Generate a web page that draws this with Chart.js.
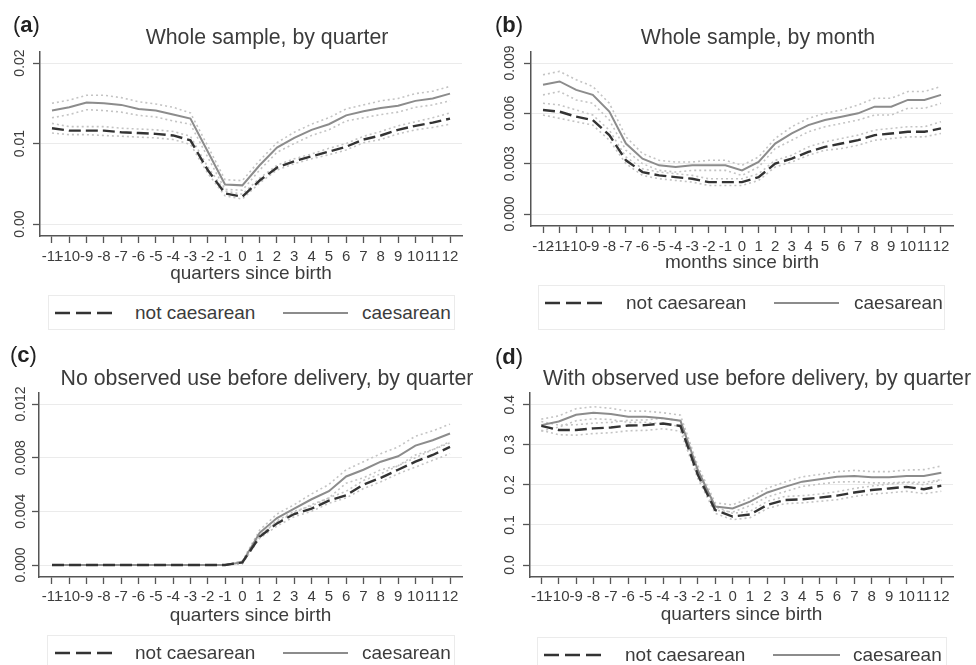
<!DOCTYPE html>
<html><head><meta charset="utf-8">
<script src="https://cdn.jsdelivr.net/npm/chart.js@4.4.1/dist/chart.umd.min.js"></script>
<style>
body{margin:0;background:#fff;width:976px;height:665px;overflow:hidden;position:relative;font-family:"Liberation Sans",Arial,sans-serif;color:#3c3c3c}
canvas{position:absolute}
.t{position:absolute;white-space:nowrap;transform:translate(-50%,-50%);font-size:21.3px;color:#3c3c3c}
.lab{position:absolute;white-space:nowrap;font-size:22px;color:#222;transform:translateY(-50%)}
.lg{position:absolute;border:1px solid #ebebeb;box-sizing:border-box}
.lt{position:absolute;font-size:19px;color:#3c3c3c;transform:translateY(-50%);white-space:nowrap}
svg{position:absolute;overflow:visible}
</style></head><body>
<canvas id="ca" width="488" height="290" style="left:0;top:0"></canvas>
<canvas id="cb" width="488" height="290" style="left:488px;top:0"></canvas>
<canvas id="cc" width="488" height="335" style="left:0;top:330px"></canvas>
<canvas id="cd" width="488" height="335" style="left:488px;top:330px"></canvas>

<div class="lab" style="left:13px;top:25px">(<b>a</b>)</div>
<div class="lab" style="left:495px;top:25px">(<b>b</b>)</div>
<div class="lab" style="left:10px;top:355px">(<b>c</b>)</div>
<div class="lab" style="left:495px;top:357px">(<b>d</b>)</div>

<div class="t" style="left:267px;top:37px">Whole sample, by quarter</div>
<div class="t" style="left:758px;top:37px">Whole sample, by month</div>
<div class="t" style="left:267px;top:378px">No observed use before delivery, by quarter</div>
<div class="t" style="left:757px;top:378px">With observed use before delivery, by quarter</div>

<div id="legends"></div>

<script>
// ---------- data ----------
const quarters = [-11,-10,-9,-8,-7,-6,-5,-4,-3,-2,-1,0,1,2,3,4,5,6,7,8,9,10,11,12];
const months = [-12,-11,-10,-9,-8,-7,-6,-5,-4,-3,-2,-1,0,1,2,3,4,5,6,7,8,9,10,11,12];
const seriesNames = ['not caesarean', 'caesarean'];

// (a) whole sample, by quarter
const aNot   = [0.0119,0.0116,0.0116,0.0116,0.0114,0.0113,0.0112,0.0110,0.0104,0.0067,0.0038,0.0034,0.0054,0.0070,0.0078,0.0084,0.0090,0.0096,0.0105,0.0110,0.0117,0.0122,0.0126,0.0131];
const aNotHi = [0.0125,0.0121,0.0121,0.0121,0.0119,0.0118,0.0117,0.0115,0.0109,0.0071,0.0041,0.0037,0.0057,0.0073,0.0081,0.0087,0.0094,0.0100,0.0109,0.0115,0.0122,0.0127,0.0132,0.0138];
const aNotLo = [0.0113,0.0111,0.0111,0.0110,0.0109,0.0108,0.0107,0.0105,0.0099,0.0063,0.0035,0.0031,0.0051,0.0067,0.0075,0.0081,0.0086,0.0092,0.0101,0.0105,0.0112,0.0117,0.0120,0.0124];
const aCs    = [0.0141,0.0145,0.0151,0.0150,0.0148,0.0143,0.0141,0.0136,0.0131,0.0090,0.0049,0.0048,0.0073,0.0095,0.0107,0.0117,0.0124,0.0135,0.0140,0.0144,0.0147,0.0153,0.0156,0.0162];
const aCsHi  = [0.0150,0.0154,0.0160,0.0160,0.0157,0.0152,0.0149,0.0145,0.0138,0.0097,0.0055,0.0054,0.0079,0.0101,0.0114,0.0124,0.0132,0.0143,0.0148,0.0153,0.0156,0.0162,0.0165,0.0171];
const aCsLo  = [0.0132,0.0136,0.0142,0.0141,0.0139,0.0135,0.0133,0.0128,0.0124,0.0083,0.0043,0.0042,0.0067,0.0089,0.0100,0.0110,0.0117,0.0128,0.0132,0.0136,0.0139,0.0145,0.0148,0.0153];
const aYTicks = [0, 0.01, 0.02];

// (b) whole sample, by month
const bNot   = [0.0062,0.0061,0.0058,0.0056,0.0047,0.0032,0.0025,0.0023,0.0022,0.0021,0.0019,0.0019,0.0019,0.0022,0.0030,0.0033,0.0037,0.0040,0.0042,0.0044,0.0047,0.0048,0.0049,0.0049,0.0051];
const bNotHi = [0.0066,0.0065,0.0062,0.0059,0.0050,0.0034,0.0027,0.0025,0.0024,0.0023,0.0021,0.0021,0.0021,0.0024,0.0032,0.0035,0.0040,0.0043,0.0045,0.0047,0.0050,0.0051,0.0052,0.0052,0.0055];
const bNotLo = [0.0059,0.0057,0.0055,0.0053,0.0044,0.0030,0.0023,0.0021,0.0020,0.0019,0.0017,0.0017,0.0017,0.0020,0.0028,0.0031,0.0035,0.0038,0.0039,0.0041,0.0044,0.0045,0.0046,0.0046,0.0048];
const bCs    = [0.0077,0.0079,0.0074,0.0071,0.0061,0.0042,0.0033,0.0029,0.0028,0.0029,0.0029,0.0029,0.0026,0.0031,0.0042,0.0048,0.0053,0.0056,0.0058,0.0060,0.0064,0.0064,0.0068,0.0068,0.0071];
const bCsHi  = [0.0083,0.0085,0.0080,0.0076,0.0066,0.0046,0.0036,0.0032,0.0031,0.0031,0.0032,0.0032,0.0029,0.0034,0.0045,0.0052,0.0057,0.0060,0.0062,0.0065,0.0069,0.0069,0.0073,0.0073,0.0076];
const bCsLo  = [0.0071,0.0073,0.0068,0.0066,0.0056,0.0038,0.0030,0.0026,0.0025,0.0026,0.0026,0.0026,0.0023,0.0028,0.0039,0.0044,0.0049,0.0052,0.0054,0.0056,0.0059,0.0059,0.0063,0.0063,0.0066];
const bYTicks = [0, 0.003, 0.006, 0.009];

// (c) no observed use before delivery, by quarter
const cNot   = [0,0,0,0,0,0,0,0,0,0,0,0.0002,0.0021,0.0031,0.0038,0.0042,0.0048,0.0052,0.0060,0.0065,0.0071,0.0077,0.0082,0.0088];
const cNotHi = [0,0,0,0,0,0,0,0,0,0,0,0.0003,0.0022,0.0033,0.0040,0.0044,0.0050,0.0055,0.0063,0.0068,0.0074,0.0080,0.0086,0.0092];
const cNotLo = [0,0,0,0,0,0,0,0,0,0,0,0.0001,0.0020,0.0029,0.0036,0.0040,0.0046,0.0050,0.0057,0.0062,0.0068,0.0073,0.0078,0.0083];
const cCs    = [0,0,0,0,0,0,0,0,0,0,0,0.0002,0.0024,0.0035,0.0042,0.0049,0.0055,0.0066,0.0071,0.0077,0.0081,0.0089,0.0093,0.0098];
const cCsHi  = [0,0,0,0,0,0,0,0,0,0,0,0.0003,0.0026,0.0038,0.0045,0.0053,0.0060,0.0071,0.0077,0.0083,0.0088,0.0096,0.0100,0.0105];
const cCsLo  = [0,0,0,0,0,0,0,0,0,0,0,0.0001,0.0022,0.0032,0.0039,0.0045,0.0050,0.0061,0.0065,0.0071,0.0074,0.0082,0.0086,0.0091];
const cYTicks = [0, 0.004, 0.008, 0.012];

// (d) with observed use before delivery, by quarter
const dNot   = [0.347,0.337,0.337,0.341,0.343,0.348,0.349,0.353,0.347,0.225,0.137,0.121,0.126,0.150,0.162,0.164,0.168,0.173,0.181,0.187,0.191,0.195,0.189,0.198];
const dNotHi = [0.358,0.349,0.350,0.354,0.356,0.361,0.362,0.366,0.360,0.234,0.145,0.129,0.134,0.159,0.171,0.173,0.177,0.183,0.191,0.197,0.202,0.206,0.200,0.212];
const dNotLo = [0.336,0.325,0.324,0.328,0.330,0.335,0.336,0.340,0.334,0.216,0.129,0.113,0.118,0.141,0.153,0.155,0.159,0.163,0.171,0.177,0.180,0.184,0.178,0.184];
const dCs    = [0.349,0.358,0.375,0.380,0.377,0.370,0.370,0.366,0.360,0.237,0.146,0.141,0.158,0.181,0.195,0.208,0.214,0.220,0.222,0.219,0.219,0.222,0.222,0.230];
const dCsHi  = [0.364,0.372,0.390,0.395,0.391,0.384,0.384,0.380,0.374,0.248,0.155,0.150,0.168,0.192,0.207,0.220,0.226,0.233,0.236,0.233,0.233,0.237,0.238,0.247];
const dCsLo  = [0.334,0.344,0.360,0.365,0.363,0.356,0.356,0.352,0.346,0.226,0.137,0.132,0.148,0.170,0.183,0.196,0.202,0.207,0.208,0.205,0.205,0.207,0.206,0.213];
const dYTicks = [0, 0.1, 0.2, 0.3, 0.4];

// ---------- drawing ----------
const FONT = '"Liberation Sans", Arial, sans-serif';
const TXT = '#3c3c3c', AXIS = '#555', GRID = '#ebebeb';
const pts = (xs, ys) => xs.map((x, i) => ({x: x, y: ys[i]}));

function panel(id, L, xs, s, yTicks, dec, xTitle) {
  const ci = (d, o) => ({data: pts(xs, d), borderColor: '#c4c4c4', borderWidth: 1.6, borderDash: [2, 3], order: o});
  new Chart(document.getElementById(id), {
    type: 'line',
    data: { datasets: [
      {label: seriesNames[0], data: pts(xs, s.nc), borderColor: '#333', borderWidth: 2.4, borderDash: [12, 5], order: 0},
      {label: seriesNames[1], data: pts(xs, s.cs), borderColor: '#8c8c8c', borderWidth: 2, order: 1},
      ci(s.ncHi, 2), ci(s.ncLo, 2), ci(s.csHi, 3), ci(s.csLo, 3)
    ]},
    options: {
      responsive: false, animation: false, devicePixelRatio: 1,
      elements: { point: {radius: 0}, line: {tension: 0, fill: false} },
      layout: { padding: {top: L.top, right: L.right, left: 0, bottom: 0} },
      plugins: { legend: {display: false}, tooltip: {enabled: false} },
      scales: {
        x: {
          type: 'linear', min: L.xmin, max: L.xmax,
          afterBuildTicks: sc => { sc.ticks = xs.map(v => ({value: v})); },
          afterFit: sc => { sc.height = L.xh; },
          grid: {drawOnChartArea: false, drawTicks: true, tickLength: 7, tickColor: AXIS, tickWidth: 1.3},
          border: {display: true, color: AXIS, width: 1.5},
          ticks: {autoSkip: false, maxRotation: 0, minRotation: 0, padding: L.xpad,
                  font: {family: FONT, size: 15}, color: TXT, callback: v => String(v)},
          title: {display: true, text: xTitle, font: {family: FONT, size: 19}, color: TXT,
                  padding: {top: 0, bottom: L.tpad}}
        },
        y: {
          type: 'linear', min: L.ymin, max: L.ymax,
          afterBuildTicks: sc => { sc.ticks = yTicks.map(v => ({value: v})); },
          afterFit: sc => { sc.width = L.yw; },
          grid: {color: GRID, lineWidth: 1, drawTicks: true, tickLength: 7, tickColor: AXIS, tickWidth: 1.3},
          border: {display: true, color: AXIS, width: 1.5},
          ticks: {minRotation: 90, maxRotation: 90, crossAlign: 'center', padding: L.ypad,
                  font: {family: FONT, size: 14}, color: TXT, callback: v => v.toFixed(dec)}
        }
      }
    }
  });
}

panel('ca', {top: 52, right: 26, yw: 40, xh: 54, xpad: 5, tpad: 4.6, ypad: -1.2,
             xmin: -11.693, xmax: 12.693, ymin: -0.00149, ymax: 0.02137},
      quarters, {nc: aNot, ncHi: aNotHi, ncLo: aNotLo, cs: aCs, csHi: aCsHi, csLo: aCsLo},
      aYTicks, 2, 'quarters since birth');
panel('cb', {top: 52, right: 23, yw: 43, xh: 64, xpad: 5, tpad: 15.6, ypad: -3.2,
             xmin: -12.724, xmax: 12.724, ymin: -0.000715, ymax: 0.009656},
      months, {nc: bNot, ncHi: bNotHi, ncLo: bNotLo, cs: bCs, csHi: bCsHi, csLo: bCsLo},
      bYTicks, 3, 'months since birth');
panel('cc', {top: 63, right: 26, yw: 39, xh: 88, xpad: 4, tpad: 37.6, ypad: -6.2,
             xmin: -11.751, xmax: 12.693, ymin: -0.000894, ymax: 0.01282},
      quarters, {nc: cNot, ncHi: cNotHi, ncLo: cNotLo, cs: cCs, csHi: cCsHi, csLo: cCsLo},
      cYTicks, 3, 'quarters since birth');
panel('cd', {top: 63, right: 23, yw: 42, xh: 88, xpad: 3.4, tpad: 38.6, ypad: 3.3,
             xmin: -11.65, xmax: 12.673, ymin: -0.02994, ymax: 0.4292},
      quarters, {nc: dNot, ncHi: dNotHi, ncLo: dNotLo, cs: dCs, csHi: dCsHi, csLo: dCsLo},
      dYTicks, 1, 'quarters since birth');

// ---------- legends (HTML) ----------
function legend(box, cy, d0, d1, t0, s0, s1, t1) {
  const host = document.getElementById('legends');
  const b = document.createElement('div');
  b.className = 'lg';
  Object.assign(b.style, {left: box[0] + 'px', top: box[1] + 'px', width: box[2] + 'px', height: box[3] + 'px'});
  host.appendChild(b);
  const ns = 'http://www.w3.org/2000/svg';
  const mk = (x0, x1, color, w, dash) => {
    const svg = document.createElementNS(ns, 'svg');
    svg.setAttribute('width', x1 - x0); svg.setAttribute('height', 6);
    svg.style.left = x0 + 'px'; svg.style.top = (cy - 3) + 'px';
    const ln = document.createElementNS(ns, 'line');
    ln.setAttribute('x1', 0); ln.setAttribute('x2', x1 - x0); ln.setAttribute('y1', 3); ln.setAttribute('y2', 3);
    ln.setAttribute('stroke', color); ln.setAttribute('stroke-width', w);
    if (dash) ln.setAttribute('stroke-dasharray', dash);
    svg.appendChild(ln); host.appendChild(svg);
  };
  mk(d0, d0 + 57, '#333', 2.4, '15 6');
  mk(s0, s1, '#8c8c8c', 2, null);
  const tx = (x, s) => { const e = document.createElement('div'); e.className = 'lt'; e.textContent = s;
    e.style.left = x + 'px'; e.style.top = cy + 'px'; host.appendChild(e); };
  tx(t0, seriesNames[0]); tx(t1, seriesNames[1]);
}
legend([48, 295, 407, 35], 313, 55, 112, 135, 283, 348, 362);
legend([538, 285, 407, 45], 303, 545, 600, 626, 774, 839, 854);
legend([47, 635, 408, 40], 653, 55, 113, 135, 283, 348, 362);
legend([537, 637, 410, 40], 655, 544, 600, 625, 773, 840, 853);
</script>
</body></html>
